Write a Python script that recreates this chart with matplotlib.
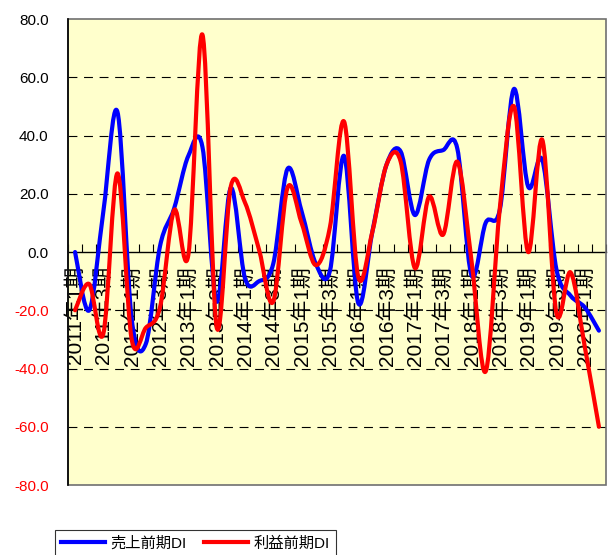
import matplotlib
matplotlib.use("Agg")
import matplotlib.pyplot as plt
from matplotlib.path import Path
from matplotlib.patches import PathPatch, Rectangle
from matplotlib.lines import Line2D

plt.rcParams['font.family'] = ['Liberation Sans', 'Noto Sans CJK JP', 'DejaVu Sans']

# categories: 2011年1期 .. 2020年2期
periods = [f"{y}年{q}期" for y in range(2011, 2021) for q in range(1, 5)][:38]

sales_di = [0, -20, 14, 48, -23, -31.5, 2, 15, 33, 36,
            -17, 22, -9, -10, -4, 28.5, 14, -4, -6.5, 33,
            -17.5, 7, 30, 34.5, 12.7, 31.6, 35, 35.5, -8, 10,
            14.5, 56, 22.5, 31.6, -6, -15, -19, -27]
profit_di = [-20, -11, -28, 27, -30, -26, -19, 14.4, -1, 74.6,
             -25.7, 22.5, 17, 0.7, -17, 22, 10, -4.5, 8.5, 44.8,
             -8.5, 7, 30, 31, -5.5, 19, 6, 31, -3, -41,
             15, 50, 0, 38.5, -21, -7, -32.5, -60]

series_names = ['売上前期DI', '利益前期DI']
series_colors = ['#0000FF', '#FF0000']
y_ticks = [-80, -60, -40, -20, 0, 20, 40, 60, 80]


def smooth_path(xs, ys):
    # Excel-style smoothed line: cubic bezier through every point
    n = len(xs)
    pts = list(zip(xs, ys))
    verts = [pts[0]]
    codes = [Path.MOVETO]
    for i in range(n - 1):
        p0 = pts[i - 1] if i > 0 else pts[i]
        p1 = pts[i]
        p2 = pts[i + 1]
        p3 = pts[i + 2] if i + 2 < n else pts[i + 1]
        c1 = (p1[0] + (p2[0] - p0[0]) / 6, p1[1] + (p2[1] - p0[1]) / 6)
        c2 = (p2[0] - (p3[0] - p1[0]) / 6, p2[1] - (p3[1] - p1[1]) / 6)
        verts += [c1, c2, p2]
        codes += [Path.CURVE4] * 3
    return Path(verts, codes)


fig = plt.figure(figsize=(6.08, 5.55), dpi=100)
ax = fig.add_axes([0.1118, 0.1261, 0.8849, 0.8396])
ax.set_facecolor('#FFFFCC')

x = list(range(len(periods)))
for vals, col in zip([sales_di, profit_di], series_colors):
    patch = PathPatch(smooth_path(x, vals), fill=False, edgecolor=col,
                      linewidth=3, capstyle='round', joinstyle='round',
                      zorder=3)
    ax.add_patch(patch)

ax.set_xlim(-0.5, len(periods) - 0.5)
ax.set_ylim(-80, 80)

# gridlines
for v in y_ticks:
    if v not in (-80, 0, 80):
        ax.axhline(v, color='black', linewidth=0.8, linestyle=(0, (8, 6)), zorder=1)

# y axis
ax.set_yticks(y_ticks)
ax.set_yticklabels([f"{v:.1f}" for v in y_ticks])
for lab, v in zip(ax.get_yticklabels(), y_ticks):
    lab.set_fontsize(11)
    lab.set_color('#FF0000' if v < 0 else 'black')
ax.tick_params(axis='y', length=0, pad=14)

# x axis at y = 0
ax.spines['bottom'].set_position(('data', 0))
ax.spines['bottom'].set_color('black')
ax.spines['bottom'].set_linewidth(1)
ax.spines['bottom'].set_zorder(2)
ax.spines['left'].set_color('black')
ax.spines['left'].set_linewidth(1.2)
ax.spines['left'].set_zorder(4)
ax.spines['top'].set_visible(False)
ax.spines['right'].set_visible(False)
ax.add_patch(Rectangle((0, 0), 1, 1, transform=ax.transAxes, fill=False,
                       edgecolor='#707070', linewidth=1.2, zorder=2.5,
                       clip_on=False))

ax.set_xticks([i - 0.5 for i in range(len(periods) + 1)])
ax.set_xticklabels([])
ax.tick_params(axis='x', which='major', direction='in', length=6, width=0.8)
ax.set_xticks(x[::2], minor=True)
ax.set_xticklabels(periods[::2], minor=True, rotation=90, fontsize=15,
                   va='top', ha='center')
ax.tick_params(axis='x', which='minor', length=0, pad=10)

handles = [Line2D([], [], color=c, linewidth=3) for c in series_colors]
leg = fig.legend(handles, series_names, loc='upper left',
                 bbox_to_anchor=(0.0905, 0.045), borderaxespad=0, ncol=2,
                 frameon=True, fontsize=11, handlelength=2.9,
                 handletextpad=0.35, columnspacing=1.1,
                 fancybox=False, edgecolor='black', borderpad=0.4)
leg.get_frame().set_linewidth(0.8)

fig.savefig('out.png', dpi=100)
